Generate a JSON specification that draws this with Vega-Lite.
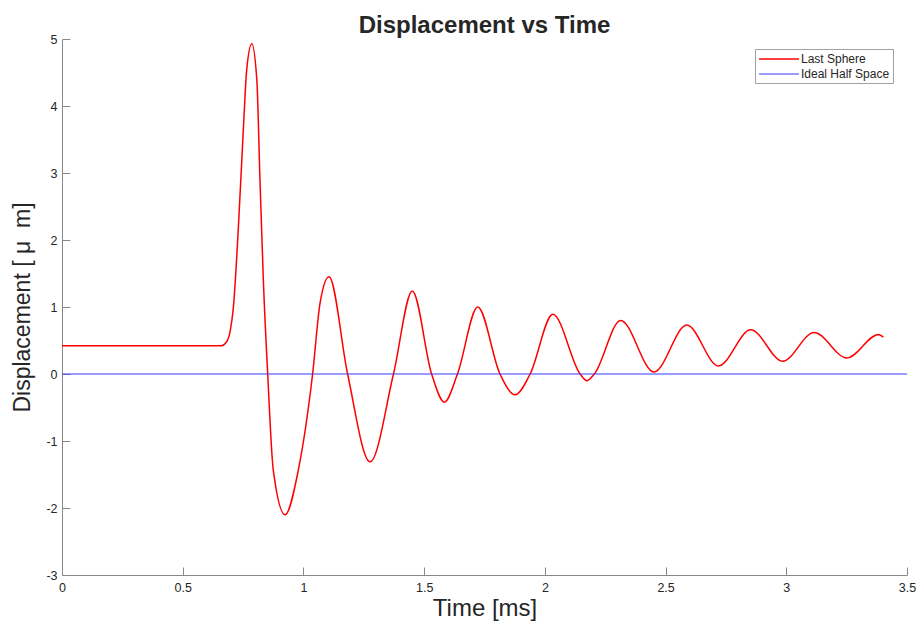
{
  "$schema": "https://vega.github.io/schema/vega-lite/v6.json",
  "width": 845,
  "height": 536,
  "autosize": {"type": "none"},
  "padding": {"left": 62, "top": 39, "right": 14, "bottom": 51},
  "background": "white",
  "title": {
    "text": "Displacement vs Time",
    "font": "Liberation Sans",
    "fontSize": 24,
    "fontWeight": "bold",
    "color": "#262626",
    "anchor": "middle",
    "offset": -5
  },
  "config": {
    "view": {"stroke": null},
    "axis": {
      "grid": false,
      "domainColor": "#888888",
      "tickColor": "#888888",
      "tickSize": -8,
      "labelFlush": false,
      "labelFont": "Liberation Sans",
      "labelFontSize": 12.5,
      "labelColor": "#262626",
      "titleFont": "Liberation Sans",
      "titleFontWeight": "normal",
      "titleColor": "#262626"
    }
  },
  "data": {
    "values": [
      {"t": 0, "v": 0.42, "s": "Last Sphere"},
      {"t": 0.3, "v": 0.42, "s": "Last Sphere"},
      {"t": 0.6, "v": 0.42, "s": "Last Sphere"},
      {"t": 0.66, "v": 0.42, "s": "Last Sphere"},
      {"t": 0.68, "v": 0.47, "s": "Last Sphere"},
      {"t": 0.696, "v": 0.63, "s": "Last Sphere"},
      {"t": 0.71, "v": 1.0, "s": "Last Sphere"},
      {"t": 0.73, "v": 2.15, "s": "Last Sphere"},
      {"t": 0.751, "v": 3.64, "s": "Last Sphere"},
      {"t": 0.765, "v": 4.54, "s": "Last Sphere"},
      {"t": 0.786, "v": 4.93, "s": "Last Sphere"},
      {"t": 0.807, "v": 4.39, "s": "Last Sphere"},
      {"t": 0.82, "v": 2.9, "s": "Last Sphere"},
      {"t": 0.834, "v": 1.4, "s": "Last Sphere"},
      {"t": 0.852, "v": 0.0, "s": "Last Sphere"},
      {"t": 0.875, "v": -1.43, "s": "Last Sphere"},
      {"t": 0.924, "v": -2.1, "s": "Last Sphere"},
      {"t": 0.979, "v": -1.43, "s": "Last Sphere"},
      {"t": 1.038, "v": 0.0, "s": "Last Sphere"},
      {"t": 1.069, "v": 1.06, "s": "Last Sphere"},
      {"t": 1.106, "v": 1.45, "s": "Last Sphere"},
      {"t": 1.183, "v": 0.0, "s": "Last Sphere"},
      {"t": 1.276, "v": -1.31, "s": "Last Sphere"},
      {"t": 1.373, "v": 0.0, "s": "Last Sphere"},
      {"t": 1.451, "v": 1.24, "s": "Last Sphere"},
      {"t": 1.531, "v": 0.0, "s": "Last Sphere"},
      {"t": 1.584, "v": -0.42, "s": "Last Sphere"},
      {"t": 1.638, "v": 0.0, "s": "Last Sphere"},
      {"t": 1.722, "v": 1.0, "s": "Last Sphere"},
      {"t": 1.814, "v": 0.0, "s": "Last Sphere"},
      {"t": 1.877, "v": -0.31, "s": "Last Sphere"},
      {"t": 1.939, "v": 0.0, "s": "Last Sphere"},
      {"t": 2.033, "v": 0.89, "s": "Last Sphere"},
      {"t": 2.146, "v": 0.0, "s": "Last Sphere"},
      {"t": 2.174, "v": -0.1, "s": "Last Sphere"},
      {"t": 2.205, "v": 0.0, "s": "Last Sphere"},
      {"t": 2.314, "v": 0.8, "s": "Last Sphere"},
      {"t": 2.452, "v": 0.03, "s": "Last Sphere"},
      {"t": 2.588, "v": 0.73, "s": "Last Sphere"},
      {"t": 2.719, "v": 0.12, "s": "Last Sphere"},
      {"t": 2.853, "v": 0.66, "s": "Last Sphere"},
      {"t": 2.985, "v": 0.19, "s": "Last Sphere"},
      {"t": 3.115, "v": 0.62, "s": "Last Sphere"},
      {"t": 3.251, "v": 0.24, "s": "Last Sphere"},
      {"t": 3.382, "v": 0.59, "s": "Last Sphere"},
      {"t": 3.402, "v": 0.55, "s": "Last Sphere"},
      {"t": 0, "v": 0, "s": "Ideal Half Space"},
      {"t": 3.5, "v": 0, "s": "Ideal Half Space"}
    ]
  },
  "mark": {"type": "line", "interpolate": "monotone"},
  "encoding": {
    "x": {
      "field": "t",
      "type": "quantitative",
      "scale": {"domain": [0, 3.5], "nice": false, "zero": false},
      "axis": {
        "values": [0, 0.5, 1, 1.5, 2, 2.5, 3, 3.5],
        "labelExpr": "datum.value + ''",
        "title": "Time [ms]",
        "titleFontSize": 24,
        "labelPadding": 14,
        "titlePadding": 3
      }
    },
    "y": {
      "field": "v",
      "type": "quantitative",
      "scale": {"domain": [-3, 5], "nice": false, "zero": false},
      "axis": {
        "values": [-3, -2, -1, 0, 1, 2, 3, 4, 5],
        "labelExpr": "datum.value + ''",
        "title": "Displacement\u00a0[\u00a0μ\u00a0\u00a0m]",
        "titleFontSize": 23,
        "labelPadding": 13,
        "titlePadding": 11
      }
    },
    "color": {
      "field": "s",
      "type": "nominal",
      "scale": {"domain": ["Last Sphere", "Ideal Half Space"], "range": ["#ff0000", "#3a3aff"]},
      "legend": {
        "title": null,
        "orient": "none",
        "legendX": 693,
        "legendY": 10,
        "symbolType": "M-3.33,0H3.33",
        "symbolSize": 144,
        "symbolOffset": 14,
        "symbolStrokeWidth": 1.5,
        "symbolFillColor": "transparent",
        "labelFont": "Liberation Sans",
        "labelFontSize": 12,
        "labelColor": "#262626",
        "labelOffset": 15,
        "strokeColor": "#a0a0a0",
        "fillColor": "white",
        "padding": 3,
        "rowPadding": 2
      }
    },
    "strokeWidth": {
      "field": "s",
      "type": "nominal",
      "scale": {"domain": ["Last Sphere", "Ideal Half Space"], "range": [1.5, 1.1]},
      "legend": null
    }
  }
}
